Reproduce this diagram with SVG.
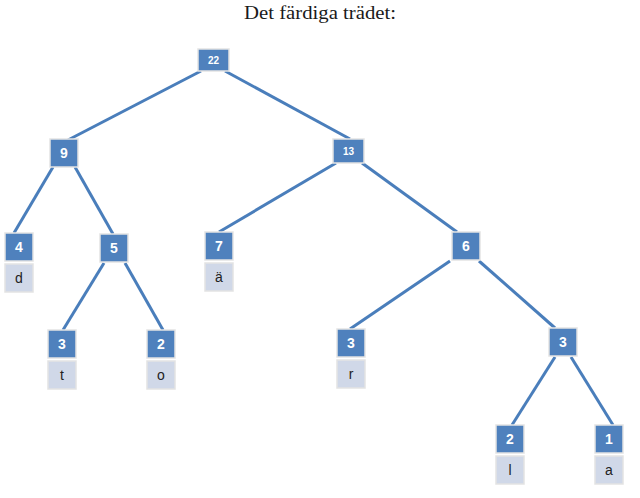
<svg xmlns="http://www.w3.org/2000/svg" width="640" height="498" viewBox="0 0 640 498">
<style>
.n{fill:#4f81bd;stroke:#e3e3e3;stroke-width:1.5}
.l{fill:#d0d8e8;stroke:#e3e3e3;stroke-width:1.5}
.t{font-family:"Liberation Sans","DejaVu Sans",sans-serif;font-weight:bold;fill:#ffffff;text-anchor:middle;font-size:14px}
.s{font-family:"Liberation Sans","DejaVu Sans",sans-serif;font-weight:bold;fill:#ffffff;text-anchor:middle;font-size:10px}
.c{font-family:"Liberation Sans","DejaVu Sans",sans-serif;fill:#222222;text-anchor:middle;font-size:14px}
.e{stroke:#4a7ebb;stroke-width:3;fill:none}
</style>
<rect width="640" height="498" fill="#ffffff"/>
<text x="320" y="19" font-family="Liberation Serif,serif" font-size="18" fill="#1a1a1a" text-anchor="middle" textLength="152" lengthAdjust="spacingAndGlyphs">Det färdiga trädet:</text>
<g id="edges">
<line class="e" x1="201" y1="71" x2="68" y2="140"/>
<line class="e" x1="225" y1="71" x2="350" y2="139"/>
<line class="e" x1="53" y1="167" x2="14" y2="233"/>
<line class="e" x1="75" y1="167" x2="113" y2="234"/>
<line class="e" x1="104" y1="263" x2="63" y2="330"/>
<line class="e" x1="125" y1="263" x2="163" y2="330"/>
<line class="e" x1="336" y1="163" x2="219" y2="232"/>
<line class="e" x1="362" y1="163" x2="457" y2="232"/>
<line class="e" x1="450" y1="261" x2="350" y2="329"/>
<line class="e" x1="479" y1="261" x2="555" y2="328"/>
<line class="e" x1="555" y1="357" x2="512" y2="425"/>
<line class="e" x1="571" y1="357" x2="613" y2="425"/>
</g>
<g id="n22"><rect class="n" x="198" y="49" width="31" height="22"/><text class="s" x="213.5" y="63.5">22</text></g>
<g id="n13"><rect class="n" x="333" y="139" width="31" height="24"/><text class="s" x="348.5" y="154.5">13</text></g>
<g id="n9"><rect class="n" x="50" y="139" width="28" height="28"/><text class="t" x="64" y="158">9</text></g>
<g id="n4"><rect class="n" x="5" y="233" width="28" height="28"/><text class="t" x="19" y="252">4</text><rect class="l" x="5" y="264" width="28" height="28"/><text class="c" x="19" y="283">d</text></g>
<g id="n5"><rect class="n" x="100" y="234" width="28" height="28"/><text class="t" x="114" y="253">5</text></g>
<g id="n7"><rect class="n" x="205" y="232" width="28" height="28"/><text class="t" x="219" y="251">7</text><rect class="l" x="205" y="263" width="28" height="28"/><text class="c" x="219" y="282">ä</text></g>
<g id="n6"><rect class="n" x="452" y="232" width="28" height="28"/><text class="t" x="466" y="251">6</text></g>
<g id="n3t"><rect class="n" x="48" y="330" width="28" height="28"/><text class="t" x="62" y="349">3</text><rect class="l" x="48" y="361" width="28" height="28"/><text class="c" x="62" y="380">t</text></g>
<g id="n2o"><rect class="n" x="147" y="330" width="28" height="28"/><text class="t" x="161" y="349">2</text><rect class="l" x="147" y="361" width="28" height="28"/><text class="c" x="161" y="380">o</text></g>
<g id="n3r"><rect class="n" x="337" y="329" width="28" height="28"/><text class="t" x="351" y="348">3</text><rect class="l" x="337" y="360" width="28" height="28"/><text class="c" x="351" y="379">r</text></g>
<g id="n3"><rect class="n" x="549" y="328" width="28" height="28"/><text class="t" x="563" y="347">3</text></g>
<g id="n2l"><rect class="n" x="496" y="425" width="28" height="28"/><text class="t" x="510" y="444">2</text><rect class="l" x="496" y="456" width="28" height="28"/><text class="c" x="510" y="475">l</text></g>
<g id="n1a"><rect class="n" x="595" y="425" width="28" height="28"/><text class="t" x="609" y="444">1</text><rect class="l" x="595" y="456" width="28" height="28"/><text class="c" x="609" y="475">a</text></g>
</svg>
